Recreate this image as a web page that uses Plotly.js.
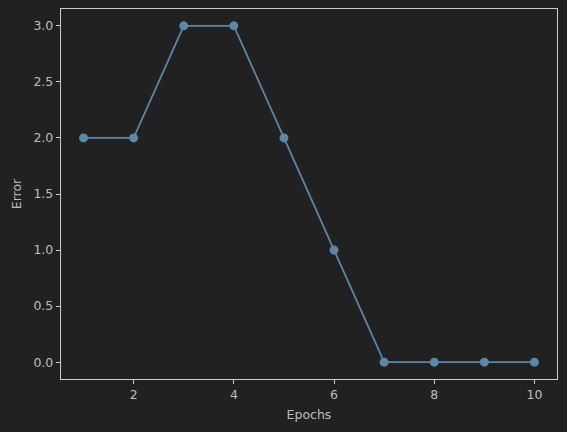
<!DOCTYPE html>
<html><head><meta charset="utf-8">
<script src="https://cdn.plot.ly/plotly-3.0.1.min.js"></script>
<style>html,body{margin:0;padding:0;background:#212121;}</style>
</head><body>
<div id="chart" style="width:567px;height:432px;"></div>
<script>
const epochs = [1,2,3,4,5,6,7,8,9,10];
const errors = [2,2,3,3,2,1,0,0,0,0];
const xTicks = [2,4,6,8,10];
const yTicks = [0,0.5,1,1.5,2,2.5,3];
const axisCommon = {
  showgrid:false, zeroline:false, showline:true, mirror:true,
  linecolor:'#cccccc', linewidth:1.2, ticks:'outside', ticklen:4, tickwidth:1,
  tickcolor:'#cccccc', tickfont:{family:'DejaVu Sans', size:12.5, color:'#bdbdbd'}
};
Plotly.newPlot('chart', [{
  x: epochs, y: errors, type:'scatter', mode:'lines+markers',
  line:{color:'#5b87a8', width:1.8},
  marker:{color:'#5b87a8', size:9}
}], {
  width:567, height:432,
  paper_bgcolor:'#212121', plot_bgcolor:'#212121',
  margin:{l:61, r:10, t:9, b:53},
  showlegend:false,
  xaxis: Object.assign({}, axisCommon, {
    range:[0.55,10.45], tickvals:xTicks, ticktext:xTicks.map(String),
    title:{text:'Epochs', font:{family:'DejaVu Sans', size:12.5, color:'#bdbdbd'}, standoff:9}
  }),
  yaxis: Object.assign({}, axisCommon, {
    range:[-0.15,3.15], tickvals:yTicks, ticktext:yTicks.map(v=>v.toFixed(1)),
    title:{text:'Error', font:{family:'DejaVu Sans', size:12.5, color:'#bdbdbd'}, standoff:9}
  })
}, {displayModeBar:false, staticPlot:true});
</script>
</body></html>
